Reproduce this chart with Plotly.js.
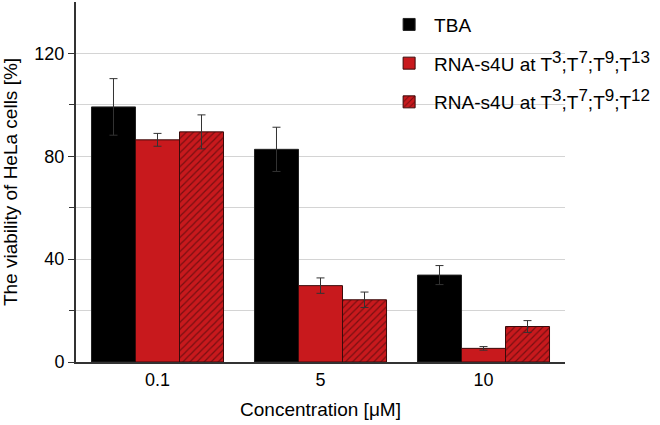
<!DOCTYPE html>
<html><head><meta charset="utf-8">
<script src="https://cdn.plot.ly/plotly-3.0.1.min.js"></script>
<style>html,body{margin:0;padding:0;background:#fff}#chart{width:660px;height:425px}</style>
</head><body><div id="chart"></div>
<script>
const categories = ['0.1', '5', '10'];
const seriesNames = ['TBA',
  'RNA-s4U at T<sup><span style="font-size:17px">3</span></sup>;T<sup><span style="font-size:17px">7</span></sup>;T<sup><span style="font-size:17px">9</span></sup>;T<sup><span style="font-size:17px">13</span></sup>',
  'RNA-s4U at T<sup><span style="font-size:17px">3</span></sup>;T<sup><span style="font-size:17px">7</span></sup>;T<sup><span style="font-size:17px">9</span></sup>;T<sup><span style="font-size:17px">12</span></sup>'];
const tbaValues = [99.2, 82.7, 33.8];
const tbaErrors = [11.0, 8.6, 3.7];
const s13Values = [86.4, 29.7, 5.3];
const s13Errors = [2.5, 3.0, 0.7];
const s12Values = [89.5, 24.2, 13.8];
const s12Errors = [6.6, 3.0, 2.3];

const red = '#c8191d';
const errStyle = {type: 'data', visible: true, color: '#333333', thickness: 1, width: 4};

const traces = [
  {type: 'bar', name: seriesNames[0], legendgroup: 'a', x: categories, y: tbaValues,
   error_y: Object.assign({array: tbaErrors}, errStyle),
   marker: {color: '#000000', line: {color: '#222', width: 1}}},
  {type: 'bar', name: seriesNames[1], legendgroup: 'b', x: categories, y: s13Values,
   error_y: Object.assign({array: s13Errors}, errStyle),
   marker: {color: red, line: {color: '#3a0a0a', width: 1}}},
  {type: 'bar', name: seriesNames[2], legendgroup: 'c', x: categories, y: s12Values,
   error_y: Object.assign({array: s12Errors}, errStyle),
   marker: {color: red, line: {color: '#3a0a0a', width: 1},
     pattern: {shape: '/', fillmode: 'overlay', bgcolor: red, fgcolor: '#2a0505', size: 5, solidity: 0.25}}}
];

const layout = {
  width: 660, height: 425,
  margin: {l: 76, r: 95, t: 2, b: 63, autoexpand: false},
  paper_bgcolor: '#ffffff', plot_bgcolor: '#ffffff',
  font: {family: 'Liberation Sans, Arial, sans-serif', size: 18, color: '#000'},
  barmode: 'group', bargap: 0.19, bargroupgap: 0,
  showlegend: true,
  legend: {xref: 'container', x: 0.582, xanchor: 'left', y: 0.99, yanchor: 'top', bgcolor: 'rgba(0,0,0,0)',
           font: {size: 19}, traceorder: 'grouped', tracegroupgap: 11, itemwidth: 40},
  xaxis: {type: 'category', automargin: false, showline: true, linecolor: '#333', linewidth: 2,
          ticks: '', showgrid: false, tickfont: {size: 18},
          title: {text: 'Concentration [μM]', font: {size: 19}, standoff: 14}},
  yaxis: {range: [0, 140], automargin: false, tickvals: [0, 40, 80, 120], ticks: 'outside', ticklen: 6, tickcolor: '#333',
          showline: true, linecolor: '#333', linewidth: 2, showgrid: true, gridcolor: '#d4d4d4', gridwidth: 1,
          zeroline: false, tickfont: {size: 18},
          minor: {tickvals: [20, 60, 100], ticks: 'outside', ticklen: 5, tickcolor: '#333', showgrid: true, gridcolor: '#d4d4d4'},
          title: {text: 'The viability of HeLa cells [%]', font: {size: 19}, standoff: 12}}
};

Plotly.newPlot('chart', traces, layout, {displayModeBar: false, staticPlot: true});
</script></body></html>
